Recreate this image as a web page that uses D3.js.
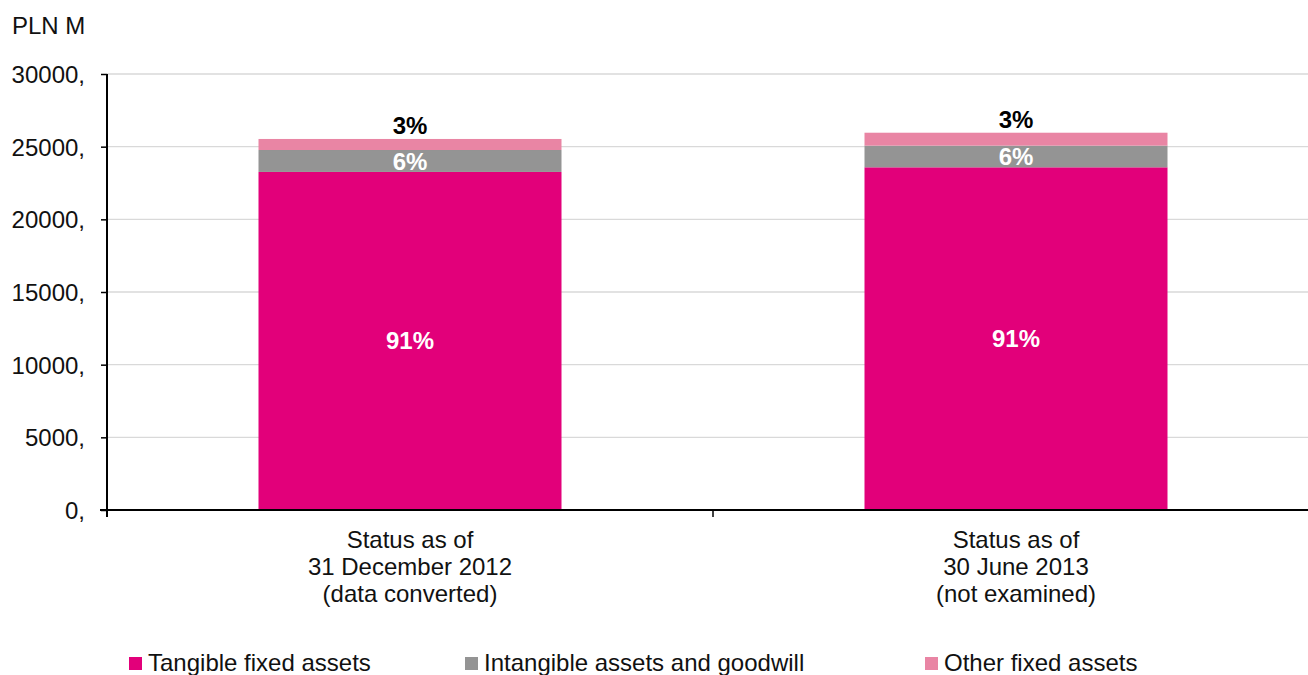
<!DOCTYPE html>
<html>
<head>
<meta charset="utf-8">
<script src="https://cdn.jsdelivr.net/npm/d3@7"></script>
<style>
  html, body { margin: 0; padding: 0; background: #fff; }
  svg { display: block; font-family: "Liberation Sans", Arial, sans-serif; }
</style>
</head>
<body>
<svg id="chart" width="1308" height="675"></svg>
<script>
const categories = [
  ["Status as of", "31 December 2012", "(data converted)"],
  ["Status as of", "30 June 2013", "(not examined)"]
];
const seriesNames = ["Tangible fixed assets", "Intangible assets and goodwill", "Other fixed assets"];
const tangible = [23260, 23580];
const intangible = [1510, 1490];
const other = [760, 890];
const shareLabels = [["91%", "6%", "3%"], ["91%", "6%", "3%"]];
const yTicks = [0, 5000, 10000, 15000, 20000, 25000, 30000];
const yTickLabels = ["0,", "5000,", "10000,", "15000,", "20000,", "25000,", "30000,"];
const unitLabel = "PLN M";

const colors = ["#E2007A", "#949494", "#E985A4"];
const FS = 24;

const svg = d3.select("#chart");
const y = d3.scaleLinear().domain([0, 30000]).range([510, 74]);
const x = d3.scaleBand().domain(d3.range(categories.length)).range([107, 1319]).paddingInner(0.5).paddingOuter(0.25);
const xStep = x.step();

// gridlines
svg.append("g").selectAll("line").data(yTicks.filter(d => d > 0)).join("line")
  .attr("x1", 107).attr("x2", 1308)
  .attr("y1", d => y(d)).attr("y2", d => y(d))
  .attr("stroke", "#d9d9d9").attr("stroke-width", 1.3);

// stack data
const rows = categories.map((c, i) => ({ i, t: tangible[i], g: intangible[i], o: other[i] }));
const stack = d3.stack().keys(["t", "g", "o"])(rows);

svg.append("g").selectAll("g").data(stack).join("g")
  .attr("fill", (d, k) => colors[k])
  .selectAll("rect").data(d => d).join("rect")
  .attr("x", d => x(d.data.i))
  .attr("width", x.bandwidth())
  .attr("y", d => y(d[1]))
  .attr("height", d => y(d[0]) - y(d[1]));

// axes
const yAxis = d3.axisLeft(y).tickValues(yTicks).tickFormat((d, i) => yTickLabels[i]).tickSize(6).tickPadding(16);
const gy = svg.append("g").attr("transform", "translate(107,0)").call(yAxis);
gy.select(".domain").remove();
gy.selectAll(".tick line").attr("stroke", "#000").attr("stroke-width", 1.5);
gy.selectAll(".tick text").attr("font-size", FS).attr("fill", "#111").attr("font-family", "Liberation Sans, Arial, sans-serif").attr("dy", "0.36em");
svg.append("line").attr("x1", 107).attr("x2", 107).attr("y1", y(30000)).attr("y2", 517).attr("stroke", "#000").attr("stroke-width", 2);

// x axis
svg.append("line").attr("x1", 100).attr("x2", 1308).attr("y1", 510).attr("y2", 510).attr("stroke", "#000").attr("stroke-width", 2);
const boundaries = d3.range(categories.length + 1).map(i => 107 + i * xStep);
svg.append("g").selectAll("line").data(boundaries.filter(b => b < 1308)).join("line")
  .attr("x1", d => d).attr("x2", d => d).attr("y1", 510).attr("y2", 517)
  .attr("stroke", "#000").attr("stroke-width", 1.5);

// category labels
const cl = svg.append("g").selectAll("text").data(categories).join("text")
  .attr("x", (d, i) => x(i) + x.bandwidth() / 2)
  .attr("y", 548)
  .attr("text-anchor", "middle").attr("font-size", FS).attr("fill", "#111");
cl.selectAll("tspan").data(d => d).join("tspan")
  .attr("x", function() { return this.parentNode.getAttribute("x"); })
  .attr("dy", (d, j) => j === 0 ? 0 : 27)
  .text(d => d);

// value labels
rows.forEach((r, i) => {
  const cx = x(i) + x.bandwidth() / 2;
  const s = stack.map(l => l[i]);
  svg.append("text").attr("x", cx).attr("y", (y(s[0][0]) + y(s[0][1])) / 2 + 8)
    .attr("text-anchor", "middle").attr("font-size", FS).attr("font-weight", "bold").attr("fill", "#fff").text(shareLabels[i][0]);
  svg.append("text").attr("x", cx).attr("y", (y(s[1][0]) + y(s[1][1])) / 2 + 9)
    .attr("text-anchor", "middle").attr("font-size", FS).attr("font-weight", "bold").attr("fill", "#fff").text(shareLabels[i][1]);
  svg.append("text").attr("x", cx).attr("y", y(s[2][1]) - 5)
    .attr("text-anchor", "middle").attr("font-size", FS).attr("font-weight", "bold").attr("fill", "#000").text(shareLabels[i][2]);
});

// unit label
svg.append("text").attr("x", 12).attr("y", 34).attr("font-size", FS).attr("fill", "#111").text(unitLabel);

// legend
const legendX = [129, 465, 925];
const lg = svg.append("g").selectAll("g").data(seriesNames).join("g")
  .attr("transform", (d, i) => `translate(${legendX[i]},0)`);
lg.append("rect").attr("x", 0).attr("y", 657).attr("width", 13).attr("height", 13).attr("fill", (d, i) => colors[i]);
lg.append("text").attr("x", 19).attr("y", 671).attr("font-size", FS).attr("fill", "#111").text(d => d);
</script>
</body>
</html>
